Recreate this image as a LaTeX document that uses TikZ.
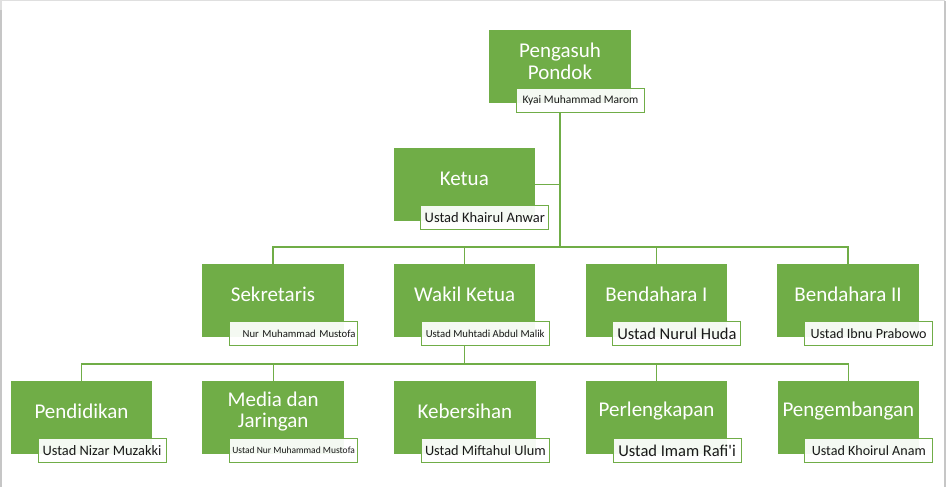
\documentclass[tikz,border=0pt]{standalone}
\usepackage{fontspec}
\setmainfont{Carlito}[Ligatures=TeXOff]
\usepackage{xcolor}
\usetikzlibrary{positioning}
\definecolor{leafgreen}{HTML}{70AD47}
\newcommand{\namesize}[1]{\fontsize{#1}{#1}\selectfont}

\begin{document}
\begin{tikzpicture}[
                x=1pt, y=-1pt,
                node distance=49.8pt,
                unit/.style={rectangle, fill=leafgreen, minimum width=141.5pt, minimum height=73pt, inner sep=0pt, label={[title]center:#1}},
                title/.style={text=white, font=\fontsize{21}{22}\selectfont, align=center, yshift=6pt},
                who/.style={rectangle, draw=leafgreen, line width=0.9pt, fill=white, fill opacity=0.93, text opacity=1, text=black!90, minimum width=128pt, minimum height=24pt, inner sep=0pt, anchor=north east, xshift=14pt, yshift=16pt},
                link/.style={draw=leafgreen, line width=1.3pt}
            ]
                \useasboundingbox (0,0) rectangle (946,487);
                \draw[gray!25, line width=1.5pt] (0.75,487) -- (0.75,0.75) -- (945,0.75);
                \draw[gray!45, line width=1.5pt] (0.75,487) -- (0.75,10);
                \draw[gray!45, line width=1.5pt] (945,0.75) -- (945,487);

                % Top
                \node[unit={Pengasuh\\Pondok}] (peng) at (560,67) {};
                \node[unit=Ketua] (ket) at (464.3,184.5) {};

                % Second row
                \node[unit=Sekretaris] (sek) at (273,300.5) {};
                \node[unit={Wakil Ketua}, right=of sek] (wak) {};
                \node[unit={Bendahara I}, right=of wak] (bend1) {};
                \node[unit={Bendahara II}, right=of bend1] (bend2) {};

                % Third row
                \node[unit=Pendidikan] (pend) at (81.5,417.5) {};
                \node[unit={Media dan\\[-1pt]Jaringan}, right=of pend] (med) {};
                \node[unit=Kebersihan, right=of med] (keb) {};
                \node[unit=Perlengkapan, right=of keb] (perl) {};
                \node[unit=Pengembangan, right=of perl] (pengb) {};

                % Names
                \node[who, font=\namesize{11.5}] (pengN) at (peng.south east) {Kyai Muhammad Marom};
                \node[who, font=\namesize{14.5}] (ketN) at (ket.south east) {Ustad Khairul Anwar};
                \node[who, font=\namesize{10.7}, text width=124pt, align=right] (sekN) at (sek.south east) {Nur Muhammad Mustofa};
                \node[who, font=\namesize{10.7}] (wakN) at (wak.south east) {Ustad Muhtadi Abdul Malik};
                \node[who, font=\namesize{16.5}] (bend1N) at (bend1.south east) {Ustad Nurul Huda};
                \node[who, font=\namesize{14.1}] (bend2N) at (bend2.south east) {Ustad Ibnu Prabowo};
                \node[who, font=\namesize{14.4}] (pendN) at (pend.south east) {Ustad Nizar Muzakki};
                \node[who, font=\namesize{9.5}] (medN) at (med.south east) {Ustad Nur Muhammad Mustofa};
                \node[who, font=\namesize{14.3}] (kebN) at (keb.south east) {Ustad Miftahul Ulum};
                \node[who, font=\namesize{16.5}] (perlN) at (perl.south east) {Ustad Imam Rafi'i};
                \node[who, font=\namesize{14.1}] (pengbN) at (pengb.south east) {Ustad Khoirul Anam};

                % Links
                \path (peng.south |- pengN.south) ++(0,134.5) coordinate (hub2);
                \path (wak.south |- wakN.south) ++(0,18) coordinate (hub3);
                \draw[link] (peng.south |- pengN.south) -- (hub2);
                \draw[link] (ket.east) -- (ket.east -| hub2);
                \draw[link] (sek.north) |- (hub2) -| (bend2.north);
                \draw[link] (wak.north) -- (wak.north |- hub2);
                \draw[link] (bend1.north) -- (bend1.north |- hub2);
                \draw[link] (wak.south |- wakN.south) -- (hub3);
                \draw[link] (pend.north) |- (hub3) -| (pengb.north);
                \draw[link] (med.north) -- (med.north |- hub3);
                \draw[link] (perl.north) -- (perl.north |- hub3);
            \end{tikzpicture}
\end{document}
